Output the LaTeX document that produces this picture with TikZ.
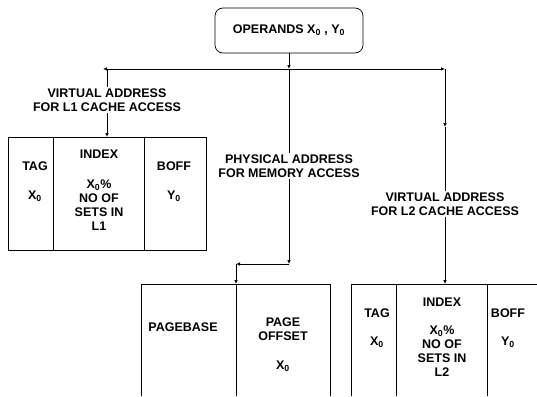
\documentclass[tikz,border=0pt]{standalone}
\usepackage{fontspec}
\setmainfont{Liberation Sans}
\usepackage{tikz}
\usetikzlibrary{arrows.meta,positioning,calc}

\newcommand{\sub}[1]{\textsubscript{#1}}

\begin{document}
\begin{tikzpicture}[x=1pt, y=-1pt, line width=0.7pt,
    font=\fontsize{12.5}{14}\selectfont\bfseries,
    >={Latex[length=4pt, width=3.5pt]},
    txt/.style={align=center, inner sep=1pt},
    lbl/.style={align=center, fill=white, inner sep=2pt}]
  \useasboundingbox (0,0) rectangle (537,396);

  % operands
  \node[draw, rounded corners=8pt, minimum width=148pt, minimum height=45pt] at (289,30.5) (ops) {OPERANDS X\sub{0} , Y\sub{0}};
  \coordinate (split) at (289,69);
  \coordinate (leftend) at (103,69);
  \coordinate (leftcorner) at (107,69);
  \coordinate (rightend) at (445,69);
  \coordinate (rightmid) at (445,127);
  \coordinate (midbend) at (289,264);
  \coordinate (pagebend) at (236,264);

  % L1 cache address
  \node[draw, minimum width=198pt, minimum height=113pt, anchor=north west] at (8,137) (l1box) {};
  \draw (53,137) -- (53,250);
  \draw (144,137) -- (144,250);
  \coordinate (l1top) at (107,137);
  \node[txt] at (35,166) (l1tagname) {TAG};
  \node[txt] at (35,196) (l1tagval) {X\sub{0}};
  \node[txt] at (99,154) (l1indexname) {INDEX};
  \node[txt] at (99,205) (l1indexval) {X\sub{0}\%\\NO OF\\SETS IN\\L1};
  \node[txt] at (174,166) (l1boffname) {BOFF};
  \node[txt] at (174,196) (l1boffval) {Y\sub{0}};

  % page address
  \coordinate (pagetop) at (236,284);
  \draw (141,396) -- (141,284) -- (330,284) -- (330,396);
  \draw (pagetop) -- (236,396);
  \node[txt] at (183,327) (pagebase) {PAGEBASE};
  \node[txt] at (283,329) (pageoffset) {PAGE\\OFFSET};
  \node[txt] at (283,366) (pageoffsetval) {X\sub{0}};

  % L2 cache address
  \coordinate (l2top) at (445,284);
  \draw (351,396) -- (351,284) -- (537,284);
  \draw (396,284) -- (396,396);
  \draw (487,284) -- (487,396);
  \node[txt] at (377,313) (l2tagname) {TAG};
  \node[txt] at (377,342) (l2tagval) {X\sub{0}};
  \node[txt] at (442,302) (l2indexname) {INDEX};
  \node[txt] at (442,351) (l2indexval) {X\sub{0}\%\\NO OF\\SETS IN\\L2};
  \node[txt] at (508,313) (l2boffname) {BOFF};
  \node[txt] at (508,342) (l2boffval) {Y\sub{0}};

  % connectors
  \draw[->] (ops.south) -- (split);
  \draw[->] (split) -- (leftend);
  \draw[->] (leftcorner) -- (l1top);
  \draw[->] (split) -- (rightend);
  \draw[->] (rightend) -- (rightmid);
  \draw[->] (rightmid) -- (l2top);
  \draw[->] (split) -- (midbend);
  \draw[->] (midbend) -- (pagebend);
  \draw[->] (pagebend) -- (pagetop);

  % labels
  \node[lbl] at (107,100) (l1label) {VIRTUAL ADDRESS\\FOR L1 CACHE ACCESS};
  \node[lbl] at (289,166) (memlabel) {PHYSICAL ADDRESS\\FOR MEMORY ACCESS};
  \node[lbl] at (445,204) (l2label) {VIRTUAL ADDRESS\\FOR L2 CACHE ACCESS};
\end{tikzpicture}
\end{document}
